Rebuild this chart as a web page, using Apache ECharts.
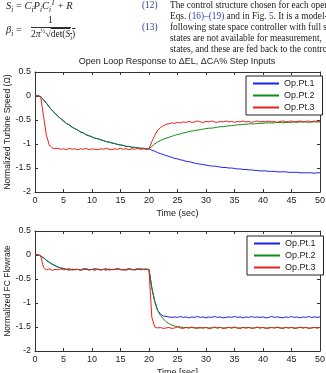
<!DOCTYPE html>
<html>
<head>
<meta charset="utf-8">
<script src="https://cdn.jsdelivr.net/npm/echarts@6/dist/echarts.min.js"></script>
<style>
  html, body { margin: 0; padding: 0; background: #fff; overflow: hidden; }
  #main { position: absolute; left: 0; top: 0; width: 326px; height: 373px; }
  .hdr { position: absolute; left: 0; top: 0; width: 326px; height: 56px; overflow: hidden;
         font-family: 'Liberation Serif', serif; font-size: 9.3px; color: #222; z-index: 2; }
  .hdr span, .hdr div { position: absolute; white-space: nowrap; line-height: 11px; }
  .ref { color: #2b3f9e; }
  sub, sup { font-size: 70%; line-height: 0; }
</style>
</head>
<body>
<div id="main"></div>
<div class="hdr">
  <span style="left:6px;top:0px;font-size:10.5px"><i>S<sub>i</sub></i> = <i>C<sub>i</sub>P<sub>i</sub>C<sub>i</sub><sup>T</sup></i> + <i>R</i></span>
  <span class="ref" style="left:142px;top:0px">(12)</span>
  <span style="left:6px;top:24px;font-size:10.5px"><i>β<sub>i</sub></i> =</span>
  <span style="left:48px;top:15px;font-size:9.5px">1</span>
  <span style="left:31px;top:27px;width:40px;height:0;border-top:0.8px solid #333"></span>
  <span style="left:31px;top:29px;font-size:9.5px">2<i>π</i><sup>½</sup>√<span style="position:static;text-decoration:overline">det(<i>S<sub>i</sub></i>)</span></span>
  <span class="ref" style="left:142px;top:22px">(13)</span>
  <div style="left:170px;top:0px">The control structure chosen for each operating</div>
  <div style="left:170px;top:11px">Eqs. <span class="ref" style="position:static">(16)–(19)</span> and in Fig. <span class="ref" style="position:static">5</span>. It is a model-</div>
  <div style="left:170px;top:22px">following state space controller with full state</div>
  <div style="left:170px;top:33px">states are not available for measurement,</div>
  <div style="left:170px;top:44px">states, and these are fed back to the controller</div>
</div>
<script>
var myChart = echarts.init(document.getElementById('main'));

var names = ['Op.Pt.1', 'Op.Pt.2', 'Op.Pt.3'];
var colors = ['#1f1fee', '#138a13', '#f01c1c'];
var tickFont = 'Liberation Sans';

// time (sec)
var time = [
  0, 0.5, 1, 1.5, 2, 2.5, 3, 3.5, 4, 4.5,
  5, 5.5, 6, 6.5, 7, 7.5, 8, 8.5, 9, 9.5,
  10, 10.5, 11, 11.5, 12, 12.5, 13, 13.5, 14, 14.5,
  15, 15.5, 16, 16.5, 17, 17.5, 18, 18.5, 19, 19.5,
  20, 20.5, 21, 21.5, 22, 22.5, 23, 23.5, 24, 24.5,
  25, 25.5, 26, 26.5, 27, 27.5, 28, 28.5, 29, 29.5,
  30, 30.5, 31, 31.5, 32, 32.5, 33, 33.5, 34, 34.5,
  35, 35.5, 36, 36.5, 37, 37.5, 38, 38.5, 39, 39.5,
  40, 40.5, 41, 41.5, 42, 42.5, 43, 43.5, 44, 44.5,
  45, 45.5, 46, 46.5, 47, 47.5, 48, 48.5, 49, 49.5, 50
];

// turbine speed
var speed1 = [
  0, 0, -0.01, -0.08, -0.15, -0.23, -0.30, -0.36, -0.42, -0.47,
  -0.52, -0.57, -0.60, -0.65, -0.68, -0.71, -0.75, -0.77, -0.81, -0.83,
  -0.85, -0.88, -0.89, -0.91, -0.93, -0.95, -0.96, -0.98, -0.99, -1.01,
  -1.02, -1.03, -1.05, -1.05, -1.07, -1.07, -1.08, -1.09, -1.09, -1.10,
  -1.10, -1.13, -1.15, -1.18, -1.20, -1.22, -1.24, -1.26, -1.28, -1.30,
  -1.31, -1.33, -1.34, -1.36, -1.37, -1.38, -1.40, -1.41, -1.42, -1.43,
  -1.44, -1.45, -1.46, -1.46, -1.47, -1.48, -1.49, -1.49, -1.50, -1.50,
  -1.51, -1.52, -1.52, -1.53, -1.53, -1.54, -1.54, -1.55, -1.55, -1.56,
  -1.56, -1.56, -1.57, -1.57, -1.57, -1.58, -1.58, -1.58, -1.58, -1.59,
  -1.59, -1.59, -1.59, -1.60, -1.60, -1.60, -1.60, -1.60, -1.61, -1.60, -1.60
];
var speed2 = [
  0, 0, -0.01, -0.08, -0.15, -0.23, -0.30, -0.36, -0.42, -0.47,
  -0.52, -0.57, -0.60, -0.65, -0.68, -0.71, -0.75, -0.77, -0.81, -0.83,
  -0.85, -0.88, -0.89, -0.91, -0.93, -0.95, -0.96, -0.98, -0.99, -1.01,
  -1.02, -1.03, -1.05, -1.05, -1.07, -1.07, -1.08, -1.09, -1.09, -1.10,
  -1.10, -1.05, -1.00, -0.96, -0.93, -0.90, -0.88, -0.86, -0.84, -0.82,
  -0.80, -0.79, -0.77, -0.76, -0.74, -0.73, -0.72, -0.71, -0.70, -0.69,
  -0.68, -0.67, -0.67, -0.66, -0.65, -0.64, -0.64, -0.63, -0.62, -0.62,
  -0.61, -0.60, -0.60, -0.59, -0.59, -0.58, -0.58, -0.58, -0.57, -0.57,
  -0.57, -0.56, -0.56, -0.56, -0.56, -0.55, -0.55, -0.56, -0.55, -0.55,
  -0.55, -0.54, -0.55, -0.54, -0.54, -0.54, -0.55, -0.54, -0.54, -0.54, -0.54
];
var speed3 = [
  0, 0.01, -0.02, -0.42, -0.82, -1.02, -1.08, -1.10, -1.09, -1.11,
  -1.10, -1.12, -1.09, -1.11, -1.10, -1.12, -1.10, -1.11, -1.09, -1.12,
  -1.10, -1.11, -1.12, -1.10, -1.11, -1.09, -1.11, -1.12, -1.10, -1.11,
  -1.09, -1.11, -1.10, -1.12, -1.10, -1.11, -1.09, -1.11, -1.10, -1.11,
  -1.10, -0.95, -0.82, -0.72, -0.66, -0.62, -0.59, -0.58, -0.56, -0.57,
  -0.55, -0.56, -0.54, -0.55, -0.53, -0.55, -0.54, -0.52, -0.54, -0.55,
  -0.53, -0.54, -0.52, -0.54, -0.55, -0.53, -0.54, -0.52, -0.54, -0.53,
  -0.55, -0.53, -0.54, -0.52, -0.54, -0.53, -0.55, -0.53, -0.52, -0.54,
  -0.53, -0.54, -0.52, -0.54, -0.53, -0.55, -0.53, -0.52, -0.54, -0.53,
  -0.52, -0.54, -0.53, -0.52, -0.54, -0.53, -0.52, -0.54, -0.52, -0.53, -0.52
];

// FC flowrate
var flow1 = [
  0, 0.01, -0.02, -0.06, -0.11, -0.15, -0.19, -0.22, -0.25, -0.27,
  -0.28, -0.30, -0.29, -0.31, -0.30, -0.30, -0.31, -0.29, -0.30, -0.31,
  -0.30, -0.29, -0.30, -0.31, -0.30, -0.29, -0.31, -0.30, -0.30, -0.29,
  -0.30, -0.31, -0.30, -0.29, -0.30, -0.31, -0.30, -0.29, -0.30, -0.30,
  -0.30, -0.68, -0.96, -1.15, -1.23, -1.27, -1.28, -1.29, -1.30, -1.29,
  -1.30, -1.28, -1.30, -1.29, -1.31, -1.29, -1.30, -1.28, -1.30, -1.29,
  -1.31, -1.29, -1.30, -1.28, -1.30, -1.29, -1.31, -1.30, -1.29, -1.30,
  -1.28, -1.30, -1.29, -1.31, -1.29, -1.30, -1.28, -1.30, -1.29, -1.30,
  -1.29, -1.31, -1.30, -1.28, -1.30, -1.29, -1.30, -1.31, -1.29, -1.30,
  -1.28, -1.30, -1.29, -1.31, -1.29, -1.30, -1.28, -1.30, -1.29, -1.30, -1.29
];
var flow2 = [
  0, 0.01, -0.02, -0.06, -0.11, -0.15, -0.19, -0.22, -0.25, -0.27,
  -0.28, -0.30, -0.29, -0.31, -0.30, -0.30, -0.31, -0.29, -0.30, -0.31,
  -0.30, -0.29, -0.30, -0.31, -0.30, -0.29, -0.31, -0.30, -0.30, -0.29,
  -0.30, -0.31, -0.30, -0.29, -0.30, -0.31, -0.30, -0.29, -0.30, -0.30,
  -0.30, -0.70, -0.97, -1.15, -1.26, -1.33, -1.39, -1.43, -1.46, -1.48,
  -1.49, -1.50, -1.51, -1.51, -1.52, -1.51, -1.52, -1.51, -1.52, -1.52,
  -1.51, -1.52, -1.52, -1.51, -1.52, -1.51, -1.52, -1.52, -1.51, -1.52,
  -1.51, -1.52, -1.52, -1.51, -1.52, -1.51, -1.52, -1.52, -1.51, -1.52,
  -1.51, -1.52, -1.52, -1.51, -1.52, -1.51, -1.52, -1.52, -1.51, -1.52,
  -1.51, -1.52, -1.52, -1.51, -1.52, -1.51, -1.52, -1.52, -1.51, -1.52, -1.51
];
var flow3 = [
  0, 0.01, -0.02, -0.26, -0.31, -0.29, -0.32, -0.30, -0.31, -0.29,
  -0.31, -0.30, -0.32, -0.29, -0.31, -0.30, -0.32, -0.30, -0.28, -0.31,
  -0.30, -0.32, -0.29, -0.31, -0.30, -0.32, -0.29, -0.31, -0.30, -0.28,
  -0.31, -0.30, -0.32, -0.29, -0.31, -0.30, -0.28, -0.31, -0.30, -0.29,
  -0.32, -1.30, -1.50, -1.52, -1.51, -1.53, -1.52, -1.51, -1.53, -1.52,
  -1.50, -1.52, -1.53, -1.51, -1.52, -1.50, -1.52, -1.53, -1.51, -1.52,
  -1.51, -1.53, -1.52, -1.50, -1.52, -1.51, -1.53, -1.52, -1.51, -1.52,
  -1.50, -1.52, -1.53, -1.51, -1.52, -1.51, -1.53, -1.52, -1.50, -1.52,
  -1.51, -1.53, -1.52, -1.51, -1.52, -1.50, -1.52, -1.53, -1.51, -1.52,
  -1.51, -1.53, -1.52, -1.50, -1.52, -1.51, -1.53, -1.52, -1.51, -1.52, -1.51
];

var pair = function (ys) {
    var res = [];
    for (var i = 0; i < time.length; i++) {
        res.push([time[i], ys[i]]);
    }
    return res;
};

var xAx = function (grid, pos, name) {
    return {
        type: 'value', gridIndex: grid, position: pos,
        min: 0, max: 50, interval: 5,
        name: name, nameLocation: 'middle', nameGap: 17, nameMoveOverlap: false,
        nameTextStyle: { fontSize: 9, color: '#222', fontFamily: tickFont },
        axisLine: { show: true, onZero: false, lineStyle: { color: '#333', width: 1 } },
        axisTick: { show: true, inside: true, length: 3, lineStyle: { color: '#333' } },
        axisLabel: { show: pos === 'bottom', fontSize: 9, color: '#222', margin: 4, fontFamily: tickFont },
        splitLine: { show: false }
    };
};
var yAx = function (grid, pos, name) {
    return {
        type: 'value', gridIndex: grid, position: pos,
        min: -2, max: 0.5, interval: 0.5,
        name: name, nameLocation: 'middle', nameGap: 23, nameMoveOverlap: false,
        nameTextStyle: { fontSize: 8.5, color: '#222', fontFamily: tickFont },
        axisLine: { show: true, onZero: false, lineStyle: { color: '#333', width: 1 } },
        axisTick: { show: true, inside: true, length: 3, lineStyle: { color: '#333' } },
        axisLabel: { show: pos === 'left', fontSize: 9, color: '#222', margin: 4, fontFamily: tickFont },
        splitLine: { show: false }
    };
};

var legendBox = function (left, top) {
    return {
        left: left, top: top, orient: 'vertical',
        backgroundColor: '#fff', borderColor: '#222', borderWidth: 1, borderRadius: 0,
        padding: [3, 8, 3, 6], itemGap: 3, itemWidth: 26, itemHeight: 9,
        itemStyle: { opacity: 0 },
        textStyle: { fontSize: 9, color: '#222', fontFamily: tickFont },
        data: names
    };
};

var lineSeries = function (k, axis, ys) {
    return {
        name: names[k], type: 'line',
        xAxisIndex: axis, yAxisIndex: axis,
        data: pair(ys), symbol: 'none',
        lineStyle: { width: 1, color: colors[k] },
        itemStyle: { color: colors[k] }
    };
};

option = {
    animation: false,
    backgroundColor: '#fff',
    graphic: [{
        type: 'text',
        style: {
            text: 'Open Loop Response to ΔEL, ΔCA% Step Inputs',
            x: 177, y: 62, textAlign: 'center', textVerticalAlign: 'middle',
            fontSize: 9, fontFamily: tickFont, fill: '#222'
        }
    }],
    grid: [
        { left: 35, top: 72, width: 285, height: 120, outerBoundsMode: 'none' },
        { left: 35, top: 231, width: 285, height: 120, outerBoundsMode: 'none' }
    ],
    xAxis: [
        xAx(0, 'bottom', 'Time (sec)'), xAx(0, 'top', ''),
        xAx(1, 'bottom', 'Time [sec]'), xAx(1, 'top', '')
    ],
    yAxis: [
        yAx(0, 'left', 'Normalized Turbine Speed (Ω)'), yAx(0, 'right', ''),
        yAx(1, 'left', 'Normalized FC Flowrate'), yAx(1, 'right', '')
    ],
    legend: [legendBox(246, 76), legendBox(247, 236)],
    series: [
        lineSeries(0, 0, speed1), lineSeries(1, 0, speed2), lineSeries(2, 0, speed3),
        lineSeries(0, 2, flow1), lineSeries(1, 2, flow2), lineSeries(2, 2, flow3)
    ]
};

myChart.setOption(option);
</script>
</body>
</html>
